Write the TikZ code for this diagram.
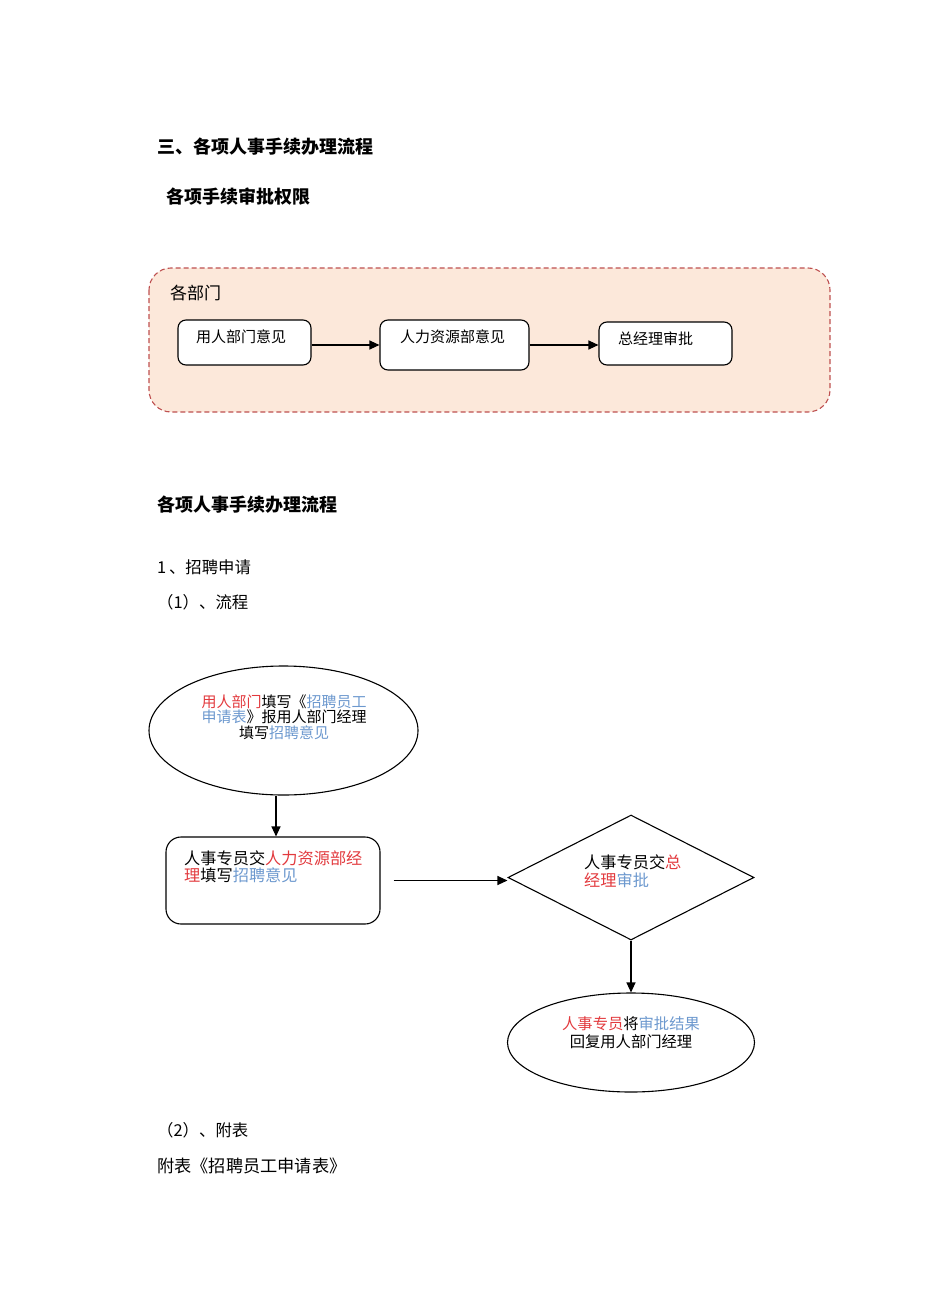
\documentclass[tikz,border=0pt]{standalone}
\usepackage{fontspec}
\setmainfont{Noto Sans CJK SC}
\usetikzlibrary{shapes.geometric,arrows.meta}
\definecolor{hrred}{RGB}{226,58,62}
\definecolor{hrblue}{RGB}{108,152,206}
\definecolor{panelfill}{RGB}{252,232,218}
\definecolor{paneldash}{RGB}{190,80,80}
\tikzset{
  heading/.style={anchor=west, inner sep=0, font=\fontsize{18}{20}\selectfont\bfseries},
  bodytext/.style={anchor=west, inner sep=0, font=\fontsize{16.4}{18}\selectfont},
  stepbox/.style={draw, line width=1.1pt, rounded corners=8pt, inner sep=0},
  flowtext/.style={inner sep=0, font=\fontsize{15}{15.5}\selectfont},
  flowarrow/.style={-{Triangle[length=10pt,width=9pt]}, line width=1.1pt},
}
\newcommand{\rd}[1]{\textcolor{hrred}{#1}}
\newcommand{\bl}[1]{\textcolor{hrblue}{#1}}
\begin{document}
\begin{tikzpicture}[x=1pt,y=-1pt]
                      \useasboundingbox (0,0) rectangle (950,1316);

                      \node[heading] (title) at (157,147) {三、各项人事手续办理流程};
                      \node[heading] (rights) at (166,197) {各项手续审批权限};

                      % approval panel
                      \draw[paneldash, fill=panelfill, dash pattern=on 5pt off 3pt, line width=1.1pt, rounded corners=22pt]
                          (149,268) rectangle (830,412);
                      \node[anchor=west, inner sep=0, font=\fontsize{17}{19}\selectfont] (dept) at (170,293) {各部门};

                      \node[stepbox, fill=white, minimum width=133, minimum height=45] (dpt) at (244.5,342.5) {};
                      \node[stepbox, fill=white, minimum width=149, minimum height=50] (hrd) at (454.5,345) {};
                      \node[stepbox, fill=white, minimum width=133, minimum height=43] (gm) at (665.5,343.5) {};
                      \node[flowtext, anchor=west] (dpttext) at (196,337) {用人部门意见};
                      \node[flowtext, anchor=west] (hrdtext) at (400,337) {人力资源部意见};
                      \node[flowtext, anchor=west] (gmtext) at (618,339) {总经理审批};

                      \draw[flowarrow] (dpt.east |- hrd.west) -- (hrd.west);
                      \draw[flowarrow] (hrd.east) -- (hrd.east -| gm.west);

                      \node[heading] (procs) at (157,505) {各项人事手续办理流程};
                      \node[bodytext] (recruit) at (157,567) {1\,、招聘申请};
                      \node[bodytext] (flow) at (157,602) {（1）、流程};

                      % recruitment flow
                      \node[draw, ellipse, line width=1.1pt, inner sep=0, minimum width=269, minimum height=129] (apply) at (283.5,730.5) {};
                      \node[flowtext, align=center] (applytext) at (284,717)
                          {\rd{用人部门}填写《\bl{招聘员工}\\\bl{申请表}》报用人部门经理\\填写\bl{招聘意见}};

                      \node[stepbox, rounded corners=15pt, minimum width=214, minimum height=87] (hrview) at (273,880.5) {};
                      \node[flowtext, anchor=west, align=left, font=\fontsize{16.2}{17}\selectfont] (hrviewtext) at (184,866.5)
                          {人事专员交\rd{人力资源部经}\\\rd{理}填写\bl{招聘意见}};

                      \node[draw, diamond, line width=1.1pt, inner sep=0, aspect=1.97, minimum width=246, minimum height=125] (gmok) at (631,877.5) {};
                      \node[flowtext, anchor=west, align=left, font=\fontsize{16.2}{18}\selectfont] (gmoktext) at (584,871)
                          {人事专员交\rd{总}\\\rd{经理}\bl{审批}};

                      \node[draw, ellipse, line width=1.1pt, inner sep=0, minimum width=247, minimum height=99] (reply) at (631,1042.5) {};
                      \node[flowtext, align=center, font=\fontsize{15.3}{18}\selectfont] (replytext) at (631,1033)
                          {\rd{人事专员}将\bl{审批结果}\\回复用人部门经理};

                      \draw[flowarrow] ([xshift=-7.5pt]apply.south) -- ([xshift=3pt]hrview.north);
                      \draw[flowarrow] ([xshift=13pt]hrview.east) -- (hrview.east -| gmok.west);
                      \draw[flowarrow] (gmok.south) -- (reply.north);

                      \node[bodytext] (attach) at (157,1130) {（2）、附表};
                      \node[bodytext, font=\fontsize{17.2}{19}\selectfont] (form) at (157,1166) {附表《招聘员工申请表》};

                  \end{tikzpicture}
\end{document}
